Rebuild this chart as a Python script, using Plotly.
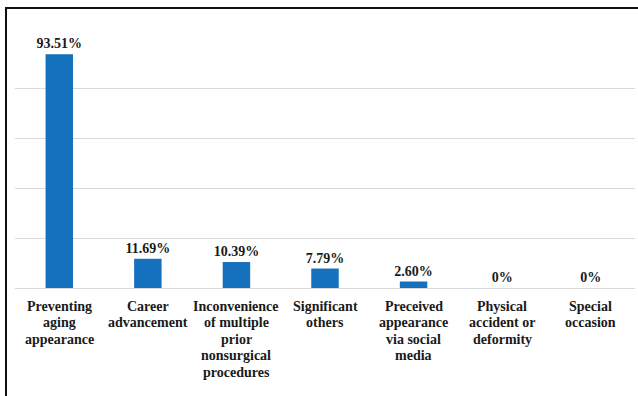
import plotly.graph_objects as go

categories = [
    "Preventing<br>aging<br>appearance",
    "Career<br>advancement",
    "Inconvenience<br>of multiple<br>prior<br>nonsurgical<br>procedures",
    "Significant<br>others",
    "Preceived<br>appearance<br>via social<br>media",
    "Physical<br>accident or<br>deformity",
    "Special<br>occasion",
]
values = [93.51, 11.69, 10.39, 7.79, 2.60, 0, 0]
value_labels = ["93.51%", "11.69%", "10.39%", "7.79%", "2.60%", "0%", "0%"]

FONT = "Times New Roman, Liberation Serif, serif"
PLOT_H = 250          # plot area height in px
FIRST_LINE = 18       # px below the baseline for the first label line
LINE_STEP = 16.5      # px between category label lines

fig = go.Figure(
    go.Bar(
        x=categories,
        y=values,
        text=[f"<b>{t}</b>" for t in value_labels],
        textposition="outside",
        constraintext="none",
        textfont=dict(family=FONT, size=14, color="#1a1a1a"),
        cliponaxis=False,
        marker=dict(color="#1570bd", line=dict(width=0)),
    )
)

# category labels, one annotation per line for tighter line spacing
annotations = []
for cat in categories:
    for i, line in enumerate(cat.split("<br>")):
        annotations.append(
            dict(
                x=cat,
                xref="x",
                y=-(FIRST_LINE + LINE_STEP * i) / PLOT_H,
                yref="paper",
                text=f"<b>{line}</b>",
                showarrow=False,
                xanchor="center",
                yanchor="middle",
                font=dict(family=FONT, size=14, color="#1a1a1a"),
            )
        )

fig.update_layout(
    width=638,
    height=396,
    margin=dict(l=15, r=3, t=38, b=108),
    paper_bgcolor="white",
    plot_bgcolor="white",
    bargap=0.69,
    showlegend=False,
    font=dict(family=FONT, size=14, color="#1a1a1a"),
    annotations=annotations,
    xaxis=dict(
        showticklabels=False,
        showgrid=False,
        showline=False,
        ticks="",
        fixedrange=True,
    ),
    yaxis=dict(
        range=[0, 100],
        dtick=20,
        showticklabels=False,
        showgrid=True,
        gridcolor="#d9d9d9",
        gridwidth=1,
        zeroline=True,
        zerolinecolor="#d9d9d9",
        zerolinewidth=1,
        ticks="",
    ),
    shapes=[
        dict(
            type="rect",
            xref="paper",
            yref="paper",
            x0=-0.0145,
            x1=1.2,
            y0=-1.0,
            y1=1.12,
            line=dict(color="#111111", width=2),
            fillcolor="rgba(0,0,0,0)",
            layer="above",
        )
    ],
)

fig.write_html("out.html")
